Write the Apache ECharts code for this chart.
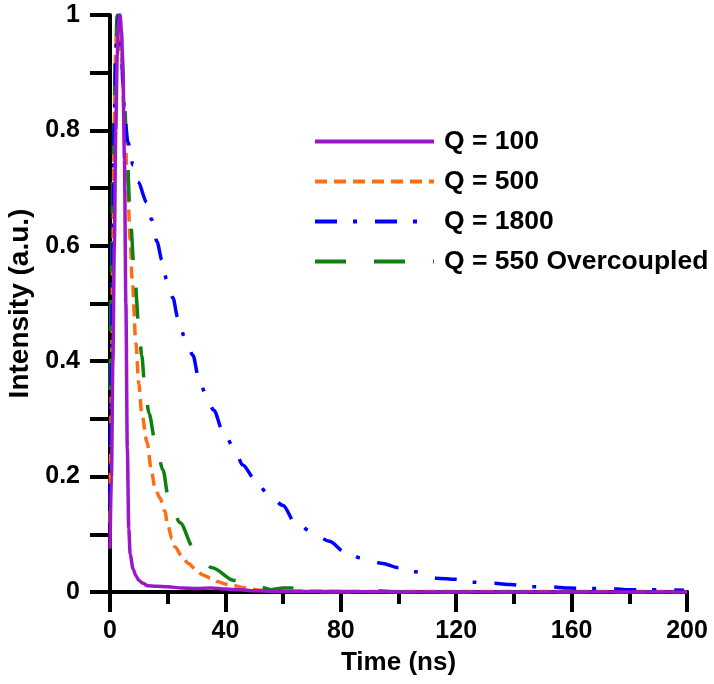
<!DOCTYPE html>
<html>
<head>
<meta charset="utf-8">
<script src="https://cdn.jsdelivr.net/npm/echarts@6/dist/echarts.min.js"></script>
<style>html,body{margin:0;padding:0;background:#fff;}#c{width:714px;height:684px;}</style>
</head>
<body>
<div id="c"></div>
<script>
const seriesNames = ['Q = 100', 'Q = 500', 'Q = 1800', 'Q = 550 Overcoupled'];
const xTicks = [0, 40, 80, 120, 160, 200];
const yTicks = [0, 0.2, 0.4, 0.6, 0.8, 1];

const q100 = [[0,0.075],[0.5,0.2],[1,0.4],[1.5,0.6],[2,0.8],[2.5,0.93],[3,0.99],[3.5,1.0],[4,0.97],[4.5,0.9],[5,0.75],[5.5,0.5],[6,0.25],[6.5,0.11],[7,0.065],[8,0.04],[9,0.028],[10,0.02],[11.5,0.015],[13,0.011],[16,0.01],[20,0.009],[25,0.007],[30,0.006],[35,0.007],[40,0.005],[45,0.004],[50,0.002],[60,0.001],[80,0.001],[100,0],[130,0],[160,0],[200,0]];
const q500 = [[0,0.12],[0.5,0.35],[1,0.6],[1.5,0.82],[2,0.95],[2.5,1.0],[3,0.99],[4,0.93],[5,0.82],[6,0.72],[7,0.61],[7.7,0.54],[9,0.43],[10,0.36],[11,0.31],[12.8,0.26],[14.5,0.206],[15.6,0.18],[17.3,0.163],[19,0.14],[20,0.116],[21.5,0.092],[22.5,0.078],[25.3,0.059],[27,0.05],[30,0.038],[32,0.03],[35,0.024],[37,0.018],[41,0.013],[47,0.007],[52,0.003],[60,0.002],[80,0.001],[100,0.001],[120,0.001],[150,0.001],[180,0.001],[200,0.001]];
const q1800 = [[0,0.15],[0.5,0.4],[1,0.65],[1.5,0.82],[2,0.93],[2.5,0.98],[3.2,1.0],[4,0.93],[4.5,0.88],[5,0.83],[6.2,0.78],[8,0.74],[9.7,0.71],[12.8,0.675],[14.5,0.645],[16.3,0.607],[18,0.575],[19.7,0.54],[21.8,0.51],[23.5,0.475],[26,0.44],[28.8,0.41],[30.5,0.376],[33,0.345],[36,0.315],[39,0.28],[43,0.25],[46,0.22],[50,0.197],[55,0.168],[60,0.15],[64,0.121],[70,0.104],[76,0.088],[81.5,0.069],[87,0.059],[94,0.05],[100,0.042],[106,0.035],[113,0.024],[120,0.022],[126,0.017],[133,0.015],[139,0.013],[146,0.009],[153,0.009],[159,0.007],[166,0.006],[173,0.006],[179,0.004],[186,0.004],[192,0.004],[199,0.003]];
const q550 = [[0,0.35],[0.5,0.55],[1,0.72],[1.5,0.85],[2,0.95],[2.5,1.0],[3,0.99],[4,0.95],[5,0.85],[6,0.75],[7,0.65],[8.5,0.55],[10,0.46],[11,0.41],[12,0.36],[13.5,0.31],[15.6,0.263],[18.4,0.211],[20.1,0.168],[24.3,0.12],[28.8,0.078],[35.4,0.042],[43,0.02],[51,0.01],[56,0.004],[60,0.007],[63,0.007],[66,-0.002],[69,-0.002],[75,0],[80,-0.002],[85,-0.002],[90,0],[93,0.002],[100,0],[130,0],[160,0],[200,0]];

const FONT = '"Liberation Sans", Arial, sans-serif';
const chart = echarts.init(document.getElementById('c'), null, {renderer: 'canvas'});

function mk(name, data, color, dash, z) {
  return {
    name: name, type: 'line', data: data, showSymbol: false, symbol: 'none',
    xAxisIndex: 0, yAxisIndex: 0,
    smooth: 0.3, smoothMonotone: 'x', z: z,
    lineStyle: {color: color, width: 3.5, type: dash},
    itemStyle: {color: color}
  };
}

chart.setOption({
  animation: false,
  backgroundColor: '#fff',
  grid: {left: 110, right: 27, top: 15, bottom: 92, outerBoundsMode: 'none', containLabel: false},
  legend: {
    orient: 'vertical', left: 313, top: 128, padding: 0,
    itemWidth: 119, itemHeight: 14, itemGap: 13,
    data: seriesNames,
    itemStyle: {opacity: 0},
    lineStyle: {width: 4},
    textStyle: {fontFamily: FONT, fontWeight: 'bold', fontSize: 26.5, color: '#000', lineHeight: 24, padding: [0,0,0,5]}
  },
  xAxis: [{
    type: 'value', min: 0, max: 200, interval: 20,
    name: 'Time (ns)', nameLocation: 'middle', nameGap: 58,
    nameTextStyle: {fontFamily: FONT, fontWeight: 'bold', fontSize: 26, color: '#000'},
    axisLine: {show: true, onZero: false, lineStyle: {color: '#000', width: 4}},
    axisTick: {show: true, inside: false, length: 12, lineStyle: {color: '#000', width: 4}},
    splitLine: {show: false},
    axisLabel: {show: true, margin: 27, fontFamily: FONT, fontWeight: 'bold', fontSize: 25, color: '#000',
      formatter: v => xTicks.includes(v) ? String(v) : ''}
  }, {
    type: 'value', min: 0, max: 200, interval: 40, position: 'bottom', offset: 0,
    axisLine: {show: true, onZero: false, lineStyle: {color: '#000', width: 4}},
    axisTick: {show: true, inside: false, length: 20, lineStyle: {color: '#000', width: 4}},
    axisLabel: {show: true, color: 'rgba(0,0,0,0)', margin: 27, fontSize: 25},
    splitLine: {show: false}
  }],
  yAxis: {
    type: 'value', min: 0, max: 1, interval: 0.1,
    name: 'Intensity (a.u.)', nameLocation: 'middle', nameGap: 69,
    nameTextStyle: {fontFamily: FONT, fontWeight: 'bold', fontSize: 28, color: '#000'},
    axisLine: {show: true, onZero: false, lineStyle: {color: '#000', width: 4}},
    axisTick: {show: true, inside: false, length: 20, lineStyle: {color: '#000', width: 4}},
    splitLine: {show: false},
    axisLabel: {show: true, margin: 30, fontFamily: FONT, fontWeight: 'bold', fontSize: 25, color: '#000',
      formatter: v => { const r = Math.round(v*10)/10; return yTicks.includes(r) ? String(r) : ''; }}
  },
  series: [
    mk(seriesNames[0], q100, '#9B17C9', 'solid', 5),
    mk(seriesNames[1], q500, '#FF6D12', [12, 7], 2),
    mk(seriesNames[2], q1800, '#0000FF', [22, 16, 4, 18], 4),
    mk(seriesNames[3], q550, '#0F7F12', [31, 28], 3)
  ]
});
</script>
</body>
</html>
